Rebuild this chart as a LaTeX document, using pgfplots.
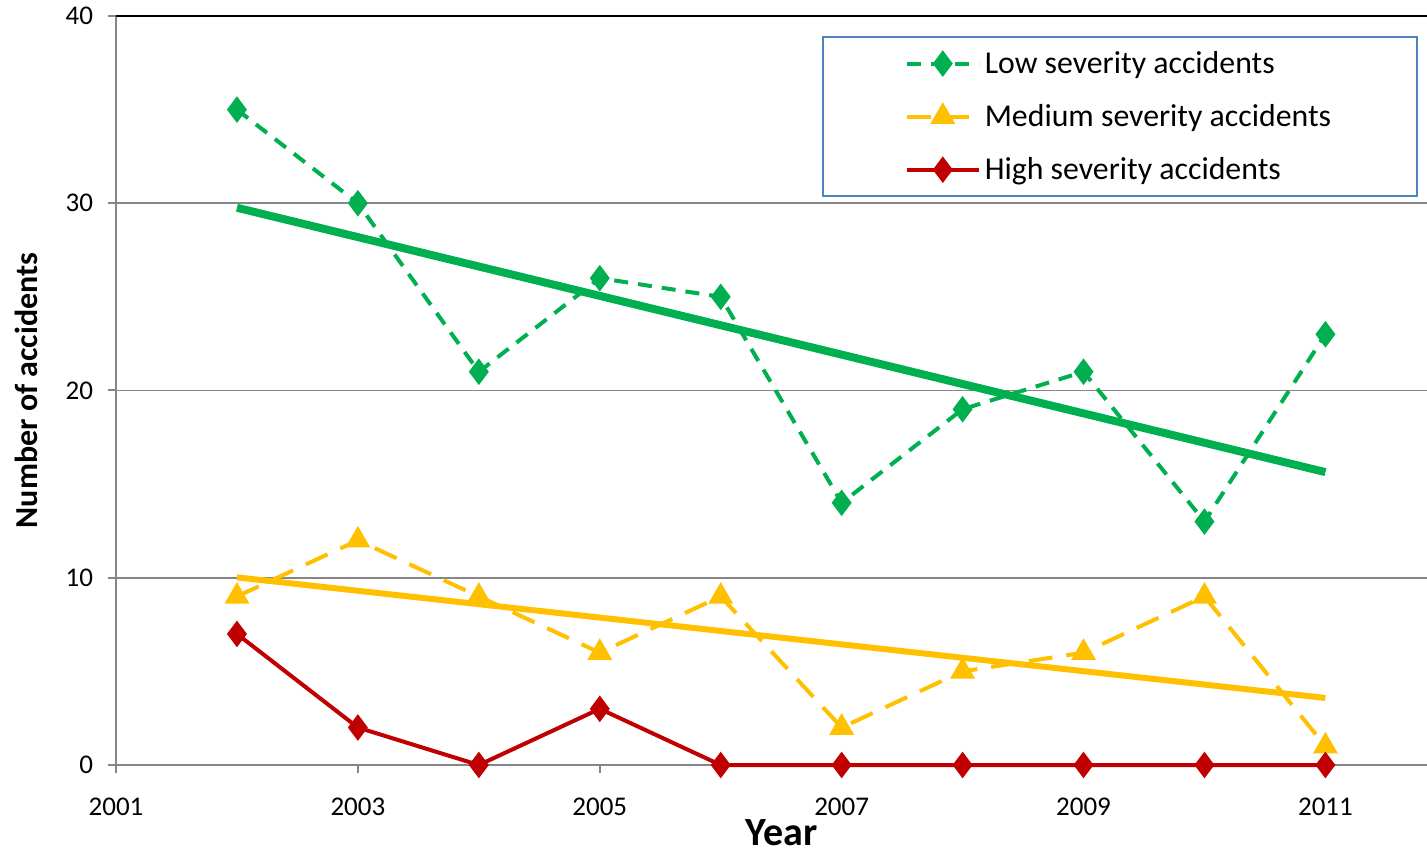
\documentclass[border=0pt]{standalone}
\usepackage{fontspec}
\setmainfont{Carlito}
\usepackage{pgfplots}
\pgfplotsset{compat=1.18}
\definecolor{cgreen}{HTML}{00B050}
\definecolor{cyellow}{HTML}{FFC000}
\definecolor{cred}{HTML}{C00000}
\definecolor{caxis}{HTML}{868686}
\definecolor{cleg}{HTML}{4F81BD}
\begin{document}
\begin{tikzpicture}
\begin{axis}[
  scale only axis,
  width=655.5pt, height=374.5pt,
  xmin=2001, xmax=2011.84, ymin=0, ymax=40,
  axis lines*=left,
  axis line style={caxis, line width=1pt},
  xtick={2001,2003,2005,2007,2009,2011},
  ytick={0,10,20,30},
  extra y ticks={40},
  extra y tick style={grid style={black, line width=1pt}},
  ymajorgrids,
  grid style={caxis, line width=0.8pt},
  tick style={caxis, line width=1pt},
  tick align=outside,
  major tick length=4pt,
  /pgf/number format/assume math mode=true,
  /pgf/number format/1000 sep={},
  ticklabel style={font=\fontsize{13.5}{16}\selectfont},
  xticklabel style={yshift=-9pt},
  yticklabel style={xshift=-4pt},
  xlabel={\textbf{Year}},
  xlabel style={font=\fontsize{20}{22}\selectfont, yshift=1.5pt, xshift=5pt, inner ysep=0pt, text depth=0pt},
  ylabel={\textbf{Number of accidents}},
  ylabel style={font=\fontsize{16}{18}\selectfont, yshift=-1pt},
  legend style={at={(0.5385,0.973)}, anchor=north west, draw=cleg, line width=0.8pt,
    font=\fontsize{15.9}{18}\selectfont, inner xsep=41pt, inner ysep=5pt,
    row sep=10pt},
  legend cell align=left,
  legend image code/.code={\draw[mark repeat=2,mark phase=2] plot coordinates {(0pt,0pt)(18pt,0pt)(36pt,0pt)};},
  clip=false,
]
\addplot[cgreen, line width=2pt, dash pattern=on 7pt off 5pt, mark=diamond*, mark size=5pt, mark options={solid}]
 coordinates {(2002,35)(2003,30)(2004,21)(2005,26)(2006,25)(2007,14)(2008,19)(2009,21)(2010,13)(2011,23)};
\addlegendentry{Low severity accidents}
\addplot[cyellow, line width=2pt, dash pattern=on 12pt off 7pt, mark=triangle*, mark size=5.2pt, mark options={solid}]
 coordinates {(2002,9)(2003,12)(2004,9)(2005,6)(2006,9)(2007,2)(2008,5)(2009,6)(2010,9)(2011,1)};
\addlegendentry{Medium severity accidents}
\addplot[cred, line width=2pt, mark=diamond*, mark size=5pt]
 coordinates {(2002,7)(2003,2)(2004,0)(2005,3)(2006,0)(2007,0)(2008,0)(2009,0)(2010,0)(2011,0)};
\addlegendentry{High severity accidents}
\addplot[cgreen, line width=4pt, forget plot] coordinates {(2002,29.76)(2011,15.64)};
\addplot[cyellow, line width=3pt, forget plot] coordinates {(2002,10.02)(2011,3.58)};
\end{axis}
\pgfresetboundingbox
\useasboundingbox ([xshift=-58pt,yshift=-45.5pt]current axis.south west) rectangle ([yshift=8pt]current axis.north east);
\end{tikzpicture}
\end{document}
